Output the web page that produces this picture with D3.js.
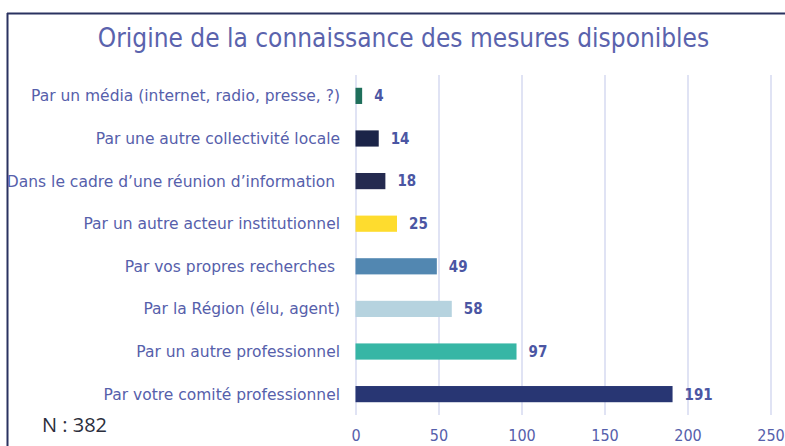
<!DOCTYPE html>
<html>
<head>
<meta charset="utf-8">
<script src="https://cdn.jsdelivr.net/npm/d3@7"></script>
<style>
  html, body { margin: 0; padding: 0; background: #fff; }
  svg { display: block; }
</style>
</head>
<body>
<svg id="chart" width="785" height="446"></svg>
<script>
// Sources through which respondents learned of the available measures
const categories = [
  "Par un média (internet, radio, presse, ?)",
  "Par une autre collectivité locale",
  "Dans le cadre d’une réunion d’information ",
  "Par un autre acteur institutionnel",
  "Par vos propres recherches ",
  "Par la Région (élu, agent)",
  "Par un autre professionnel",
  "Par votre comité professionnel"
];
const counts = [4, 14, 18, 25, 49, 58, 97, 191];
const barColors = ["#1f6f5b", "#1b2448", "#242a4f", "#fedc2e", "#5287b1", "#b6d3df", "#37b6a5", "#283673"];
const tickValues = [0, 50, 100, 150, 200, 250];
const titleText = "Origine de la connaissance des mesures disponibles";
const sampleNote = "N : 382";

const svg = d3.select("#chart");
const font = "'DejaVu Sans', sans-serif";
const fontNarrow = "'DejaVu Sans Condensed', 'DejaVu Sans', sans-serif";
const textBlue = "#5660ab";

// Frame: top and left rules
svg.append("line").attr("x1", 7).attr("x2", 785).attr("y1", 13.5).attr("y2", 13.5)
  .attr("stroke", "#2a3260").attr("stroke-width", 2);
svg.append("line").attr("x1", 7.5).attr("x2", 7.5).attr("y1", 13).attr("y2", 446)
  .attr("stroke", "#2a3260").attr("stroke-width", 2);

// Title
svg.append("text")
  .attr("x", 403.5).attr("y", 47)
  .attr("text-anchor", "middle")
  .attr("font-family", fontNarrow)
  .attr("font-size", 26)
  .attr("fill", "#5a63ad")
  .text(titleText);

const x = d3.scaleLinear().domain([0, 250]).range([355.5, 770.5]);
const y = d3.scaleBand().domain(categories).range([75, 415]).paddingInner(0.62).paddingOuter(0.3);

// Vertical gridlines + tick labels
const xAxis = d3.axisBottom(x).tickValues(tickValues).tickSize(-340).tickPadding(15).tickFormat(d3.format("d"));
const gx = svg.append("g").attr("transform", "translate(0,415)").call(xAxis);
gx.select(".domain").remove();
gx.selectAll(".tick line").attr("stroke", "#d6daf1").attr("stroke-width", 1.5);
gx.selectAll(".tick text")
  .attr("font-family", fontNarrow)
  .attr("font-size", 16)
  .attr("fill", textBlue);

// Bars
svg.append("g").selectAll("rect")
  .data(counts)
  .join("rect")
  .attr("x", x(0))
  .attr("y", (d, i) => y(categories[i]))
  .attr("width", d => x(d) - x(0))
  .attr("height", y.bandwidth())
  .attr("fill", (d, i) => barColors[i]);

// Value labels
svg.append("g").selectAll("text")
  .data(counts)
  .join("text")
  .attr("x", d => x(d) + 12)
  .attr("y", (d, i) => y(categories[i]) + y.bandwidth() / 2)
  .attr("dy", "0.36em")
  .attr("font-family", fontNarrow)
  .attr("font-weight", "bold")
  .attr("font-size", 15)
  .attr("fill", "#4b56a3")
  .text(d => d);

// Category labels
svg.append("g").selectAll("text")
  .data(categories)
  .join("text")
  .attr("x", 340)
  .attr("y", d => y(d) + y.bandwidth() / 2)
  .attr("dy", "0.36em")
  .attr("text-anchor", "end")
  .attr("xml:space", "preserve")
  .style("white-space", "pre")
  .attr("font-family", font)
  .attr("font-size", 15.5)
  .attr("fill", textBlue)
  .text(d => d);

// Sample size note
svg.append("text")
  .attr("x", 42).attr("y", 432)
  .attr("xml:space", "preserve")
  .style("white-space", "pre")
  .attr("font-family", "'Open Sans', 'DejaVu Sans', sans-serif")
  .attr("font-size", 20)
  .attr("fill", "#2b2e3c")
  .text(sampleNote);
</script>
</body>
</html>
